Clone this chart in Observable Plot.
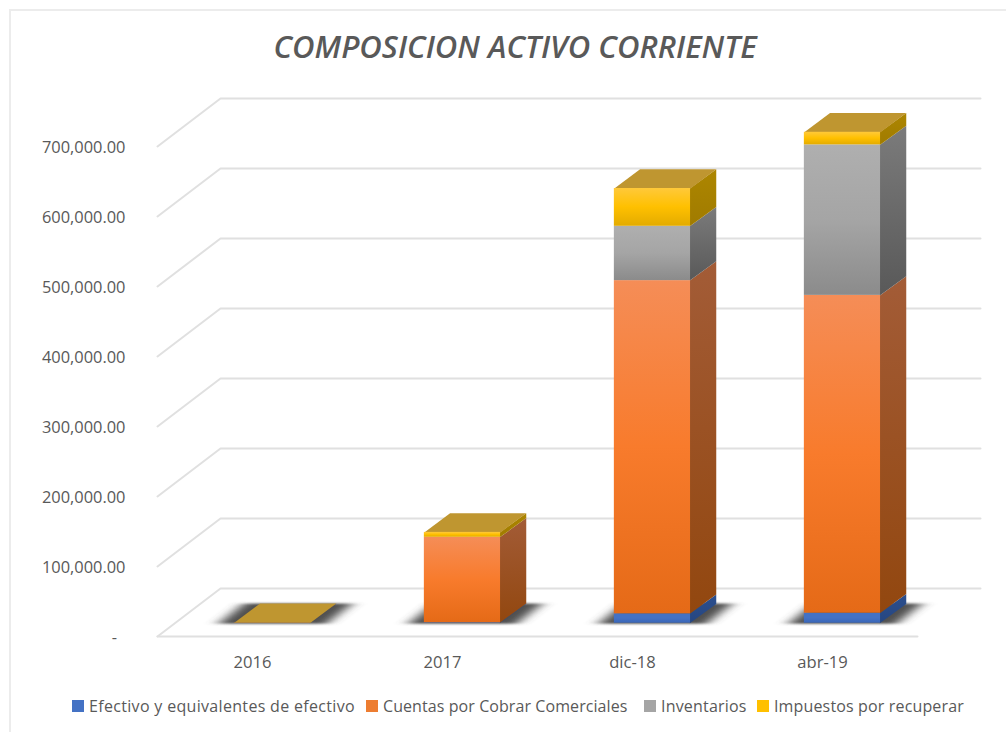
<!DOCTYPE html>
<html><head><meta charset="utf-8">
<script src="https://cdn.jsdelivr.net/npm/d3@7"></script>
<script src="https://cdn.jsdelivr.net/npm/@observablehq/plot@0.6"></script>
<style>
html,body{margin:0;padding:0;background:#fff;}
body{width:1006px;height:732px;position:relative;overflow:hidden;font-family:"Open Sans",sans-serif;color:#595959;}
#frame{position:absolute;left:9px;top:9px;width:1100px;height:800px;border:2px solid #ececec;box-sizing:border-box;}
#title{position:absolute;left:0;top:24px;width:1030px;text-align:center;font-size:31px;font-style:italic;font-weight:600;line-height:44px;color:#595959;}
#chart{position:absolute;left:0;top:75px;}
#legend{position:absolute;left:0;top:694px;font-size:16px;line-height:24px;white-space:nowrap;}
#legend span.k{display:inline-block;width:12px;height:12px;margin-right:5px;}
#legend div{position:absolute;top:0;display:flex;align-items:center;}
svg text{font-family:"Open Sans",sans-serif;}
</style></head><body>
<div id="frame"></div>
<div id="title">COMPOSICION ACTIVO CORRIENTE</div>
<div id="chart"></div>
<div id="legend"></div>
<script>
const categories = ["2016", "2017", "dic-18", "abr-19"];
const efectivo    = [300, 700, 13400, 14300];
const cuentas     = [300, 122000, 476000, 454000];
const inventarios = [0, 0, 77600, 215000];
const impuestos   = [200, 7000, 54000, 18000];
const seriesNames = ["Efectivo y equivalentes de efectivo", "Cuentas por Cobrar Comerciales", "Inventarios", "Impuestos por recuperar"];
const seriesValues = [efectivo, cuentas, inventarios, impuestos];
const yTicks = [0, 100000, 200000, 300000, 400000, 500000, 600000, 700000];

// colours: [top, mid, bottom] front, [top,bottom] side, swatch
const frontStops = [["#4472c4","#4472c4","#3a66b8"],["#f58d57","#f87b2c","#e56a17"],["#afafaf","#a5a5a5","#8b8b8b"],["#ffc93a","#ffc000","#e3ab00"]];
const sideStops  = [["#2c4f8e","#264680"],["#a35c37","#92470f"],["#7b7b7b","#595959"],["#ad8600","#a07b00"]];
const swatches = ["#4472c4","#ed7d31","#a5a5a5","#ffc000"];
const topColor = "#bf9630";
const legendLeft = [72, 366, 644, 757];
const legendSpacing = [0.32, 0.08, 0.2, 0.15];

// 3D projection, in data units
const wallDX = 0.3316, wallDY = 68571;       // floor depth
const barOffX = 0.105, barOffY = 19000;      // bar front relative to floor front
const barHalf = 0.2005;                      // half bar width
const barDX = 0.1353, barDY = 27500;         // bar depth

const floorFront = [-0.5, 3.5];

const gridPts = yTicks.flatMap(v => [
  {v, x: floorFront[0], y: v},
  {v, x: floorFront[0] + wallDX, y: v + wallDY},
  {v, x: floorFront[1] + wallDX, y: v + wallDY}
]);
const frontEdge = [{x: floorFront[0], y: 0}, {x: floorFront[1], y: 0}];

const segs = [];
categories.forEach((c, i) => {
  let acc = 0;
  seriesValues.forEach((vals, s) => {
    const v = vals[i];
    if (v > 0) segs.push({i, s, x1: i + barOffX - barHalf, x2: i + barOffX + barHalf, y1: barOffY + acc, y2: barOffY + acc + v});
    acc += v;
  });
});
const poly = (id, pts) => pts.map(([x, y]) => ({id, x, y}));
const sidePts = s => segs.filter(d => d.s === s).flatMap(d => poly(d.i, [
  [d.x2 - 0.004, d.y1], [d.x2 + barDX, d.y1 + barDY], [d.x2 + barDX, d.y2 + barDY], [d.x2 - 0.004, d.y2]
]));
const topPts = categories.flatMap((c, i) => {
  const t = barOffY + d3.sum(seriesValues, a => a[i]);
  const x1 = i + barOffX - barHalf, x2 = i + barOffX + barHalf;
  return poly(i, [[x1, t], [x2, t], [x2 + barDX, t + barDY], [x1 + barDX, t + barDY]]);
});
const shadowPts = categories.flatMap((c, i) => {
  const a = barOffY - 800, b = a + barDY + 1500;
  const x1 = i + barOffX - barHalf - 0.085, x2 = i + barOffX + barHalf + 0.085;
  return poly(i, [[x1, a], [x2, a], [x2 + barDX, b], [x1 + barDX, b]]);
});
const blur = (index, scales, values, dims, ctx, next) => {
  const g = next(index, scales, values, dims, ctx);
  g.style.filter = "url(#shadowBlur)";
  return g;
};

const defs = () => {
  const ns = "http://www.w3.org/2000/svg";
  const d = document.createElementNS(ns, "defs");
  const add = (id, stops) => {
    const g = document.createElementNS(ns, "linearGradient");
    g.setAttribute("id", id); g.setAttribute("x1", 0); g.setAttribute("y1", 0); g.setAttribute("x2", 0); g.setAttribute("y2", 1);
    stops.forEach((c, k) => {
      const st = document.createElementNS(ns, "stop");
      st.setAttribute("offset", k / (stops.length - 1)); st.setAttribute("stop-color", c);
      g.appendChild(st);
    });
    d.appendChild(g);
  };
  frontStops.forEach((st, s) => add("front" + s, st));
  sideStops.forEach((st, s) => add("side" + s, st));
  const f = document.createElementNS(ns, "filter");
  f.setAttribute("id", "shadowBlur");
  f.setAttribute("filterUnits", "userSpaceOnUse");
  f.setAttribute("x", 0); f.setAttribute("y", 0); f.setAttribute("width", 1006); f.setAttribute("height", 610);
  const b = document.createElementNS(ns, "feGaussianBlur");
  b.setAttribute("stdDeviation", "7 1");
  f.appendChild(b);
  d.appendChild(f);
  return d;
};

const marks = [
  defs,
  Plot.line(gridPts, {x: "x", y: "y", z: "v", stroke: "#e0e0e0", strokeWidth: 2}),
  Plot.line(frontEdge, {x: "x", y: "y", stroke: "#e0e0e0", strokeWidth: 2}),
  Plot.line(shadowPts, {x: "x", y: "y", z: "id", fill: "#505050", stroke: "none", render: blur}),
  ...seriesNames.map((n, s) => Plot.line(sidePts(s), {x: "x", y: "y", z: "id", fill: `url(#side${s})`, stroke: "none"})),
  Plot.line(topPts, {x: "x", y: "y", z: "id", fill: topColor, stroke: "none"}),
  ...seriesNames.map((n, s) => Plot.rect(segs.filter(d => d.s === s), {x1: "x1", x2: "x2", y1: "y1", y2: "y2", fill: `url(#front${s})`})),
  Plot.axisY({ticks: yTicks, tickSize: 0, tickPadding: 7, dy: 1.5, label: null, fontSize: 16.4, fill: "#595959",
    tickFormat: v => v === 0 ? "-\u00a0\u00a0" : d3.format(",.2f")(v)}),
  Plot.axisX({ticks: [0, 1, 2, 3], tickSize: 0, tickPadding: 10, dy: 1, label: null, fontSize: 16.6, fill: "#595959",
    tickFormat: i => categories[i]})
];

const pxY = px => (636 - px) / 0.0007;
const plot = Plot.plot({
  width: 1006, height: 610,
  marginLeft: 132, marginRight: 16, marginTop: 5, marginBottom: 40,
  style: {background: "transparent", overflow: "visible"},
  x: {type: "linear", domain: [(132 - 252) / 190, (990 - 252) / 190]},
  y: {type: "linear", domain: [pxY(645), pxY(80)]},
  marks
});
document.getElementById("chart").appendChild(plot);

const lg = document.getElementById("legend");
seriesNames.forEach((n, s) => {
  const it = document.createElement("div");
  it.style.left = legendLeft[s] + "px";
  it.style.letterSpacing = legendSpacing[s] + "px";
  it.innerHTML = `<span class="k" style="background:${swatches[s]}"></span>${n}`;
  lg.appendChild(it);
});
</script>
</body></html>
